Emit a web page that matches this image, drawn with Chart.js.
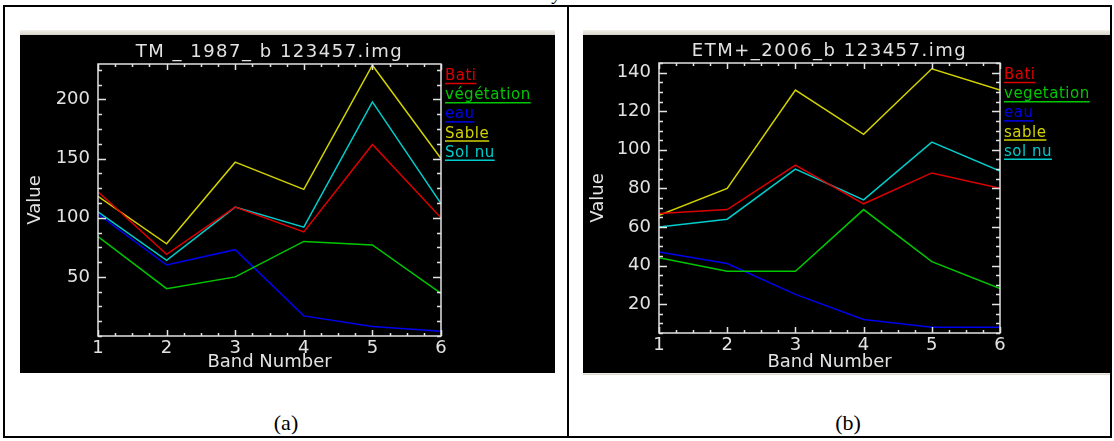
<!DOCTYPE html>
<html>
<head>
<meta charset="utf-8">
<script src="https://cdn.jsdelivr.net/npm/chart.js@4.4.0/dist/chart.umd.min.js"></script>
<style>
  body { margin: 0; background: #fff; width: 1114px; height: 441px; position: relative; overflow: hidden; font-family: "Liberation Serif", serif; }
  .box { position: absolute; border: 2px solid #000; }
  .rule { position: absolute; background: #000; }
  .band { position: absolute; background: linear-gradient(#f1f0ea, #d6d3c8); }
  .panel { position: absolute; background: #000; }
  .cap { position: absolute; font-size: 22px; transform: translateX(-50%); }
  #topy { position: absolute; left: 553px; top: -16px; font-size: 18px; font-style: italic; }
</style>
</head>
<body>
<div id="topy">y</div>
<div class="box" style="left:3px; top:5px; width:1105px; height:429px;"></div>
<div class="rule" style="left:567px; top:5px; width:2px; height:433px;"></div>

<div class="band" style="left:20px; top:30px; width:535px; height:5px;"></div>
<div class="panel" style="left:20px; top:35px; width:535px; height:338px;"><canvas id="chartA" width="535" height="338"></canvas></div>

<div class="band" style="left:583px; top:30px; width:527px; height:5px;"></div>
<div class="panel" style="left:583px; top:35px; width:527px; height:338px;"><canvas id="chartB" width="527" height="338"></canvas></div>
<div class="band" style="left:583px; top:373px; width:527px; height:2px;"></div>

<div class="cap" style="left:286px; top:410px;">(a)</div>
<div class="cap" style="left:848px; top:410px;">(b)</div>

<script>
// bands on the x axis
const bands = [1, 2, 3, 4, 5, 6];

// (a) TM 1987
const labelsA = ['Bati', 'végétation', 'eau', 'Sable', 'Sol nu'];
const batiA = [122, 69, 109, 88, 162, 100];
const vegA = [84, 40, 50, 80, 77, 36];
const eauA = [103, 60, 73, 17, 8, 4];
const sableA = [118, 78, 147, 124, 229, 150];
const solA = [105, 64, 109, 92, 198, 112];
const yTicksA = [50, 100, 150, 200];

// (b) ETM+ 2006
const labelsB = ['Bati', 'vegetation', 'eau', 'sable', 'sol nu'];
const batiB = [67, 69, 92, 72, 88, 80];
const vegB = [44, 37, 37, 69, 42, 28];
const eauB = [47, 41, 25, 12, 8, 8];
const sableB = [66, 80, 131, 108, 142, 131];
const solB = [60, 64, 90, 74, 104, 89];
const yTicksB = [20, 40, 60, 80, 100, 120, 140];

const colors = ['#dc0000', '#00c800', '#0000f0', '#d2d200', '#00cccc'];
const ink = '#e2e2e2';
const fontFam = '"DejaVu Sans", sans-serif';

// IDL-like frame: box, inward ticks on all sides, title, underlined legend
const idlFrame = {
  id: 'idlFrame',
  afterDatasetsDraw(chart, args, o) {
    const { ctx, chartArea: a, scales: { x, y } } = chart;
    ctx.save();
    ctx.strokeStyle = ink;
    ctx.lineWidth = 1.5;
    ctx.strokeRect(a.left, a.top, a.right - a.left, a.bottom - a.top);

    ctx.beginPath();
    for (let v = x.min; v <= x.max + 1e-9; v += 0.25) {
      const px = Math.round(x.getPixelForValue(v)) + 0.5;
      const len = Number.isInteger(v) ? 6 : 3;
      ctx.moveTo(px, a.bottom); ctx.lineTo(px, a.bottom - len);
      ctx.moveTo(px, a.top); ctx.lineTo(px, a.top + len);
    }
    const first = Math.ceil(y.min / o.yMinor) * o.yMinor;
    for (let v = first; v <= y.max + 1e-9; v += o.yMinor) {
      const py = Math.round(y.getPixelForValue(v)) + 0.5;
      const len = o.yTicks.includes(v) ? 8 : 4;
      ctx.moveTo(a.left, py); ctx.lineTo(a.left + len, py);
      ctx.moveTo(a.right, py); ctx.lineTo(a.right - len, py);
    }
    ctx.stroke();

    ctx.fillStyle = ink;
    ctx.font = '18px ' + fontFam;
    ctx.letterSpacing = '1.5px';
    ctx.textAlign = 'center';
    ctx.textBaseline = 'alphabetic';
    ctx.fillText(o.title, (a.left + a.right) / 2, a.top - 7);

    ctx.font = '15px ' + fontFam;
    ctx.letterSpacing = '0.5px';
    ctx.textAlign = 'left';
    chart.data.datasets.forEach((ds, i) => {
      const yb = a.top + 16 + i * 19.2;
      const x0 = a.right + 4;
      ctx.fillStyle = ds.borderColor;
      ctx.strokeStyle = ds.borderColor;
      ctx.fillText(ds.label, x0, yb);
      const w = ctx.measureText(ds.label).width;
      ctx.beginPath();
      ctx.moveTo(x0, yb + 3.5); ctx.lineTo(x0 + w, yb + 3.5);
      ctx.stroke();
    });
    ctx.restore();
  }
};

function makeChart(id, labels, series, yMin, yMax, yTicks, yMinor, title, g) {
  const datasets = series.map((vals, i) => ({
    label: labels[i],
    data: bands.map((b, j) => ({ x: b, y: vals[j] })),
    borderColor: colors[i],
    borderWidth: 1.5,
    pointRadius: 0,
    tension: 0,
    fill: false
  }));
  const axisFont = { family: fontFam, size: 18 };
  return new Chart(document.getElementById(id), {
    type: 'line',
    data: { datasets },
    plugins: [idlFrame],
    options: {
      responsive: false,
      animation: false,
      layout: { padding: { top: g.top, right: g.right, left: 0, bottom: 0 } },
      plugins: {
        legend: { display: false },
        tooltip: { enabled: false },
        idlFrame: { title, yTicks, yMinor }
      },
      scales: {
        x: {
          type: 'linear', min: 1, max: 6,
          grid: { display: false, drawTicks: false }, border: { display: false },
          afterBuildTicks: s => { s.ticks = bands.map(v => ({ value: v })); },
          afterFit: s => { s.height = g.xh; },
          ticks: { color: ink, font: axisFont, padding: 2, maxRotation: 0, autoSkip: false },
          title: { display: true, text: 'Band Number', color: ink, font: axisFont, padding: { top: 0, bottom: 0 } }
        },
        y: {
          type: 'linear', min: yMin, max: yMax,
          grid: { display: false, drawTicks: false }, border: { display: false },
          afterBuildTicks: s => { s.ticks = yTicks.map(v => ({ value: v })); },
          afterFit: s => { s.width = g.yw; },
          ticks: { color: ink, font: axisFont, padding: 8 },
          title: { display: true, text: 'Value', color: ink, font: axisFont, padding: { top: 5, bottom: 0 } }
        }
      }
    }
  });
}

makeChart('chartA', labelsA, [batiA, vegA, eauA, sableA, solA], 0, 230, yTicksA, 12.5,
  'TM _ 1987_ b 123457.img', { top: 29, right: 114, xh: 37, yw: 78 });
makeChart('chartB', labelsB, [batiB, vegB, eauB, sableB, solB], 5, 145, yTicksB, 5,
  'ETM+_2006_b 123457.img', { top: 28, right: 110, xh: 40, yw: 76 });
</script>
</body>
</html>
